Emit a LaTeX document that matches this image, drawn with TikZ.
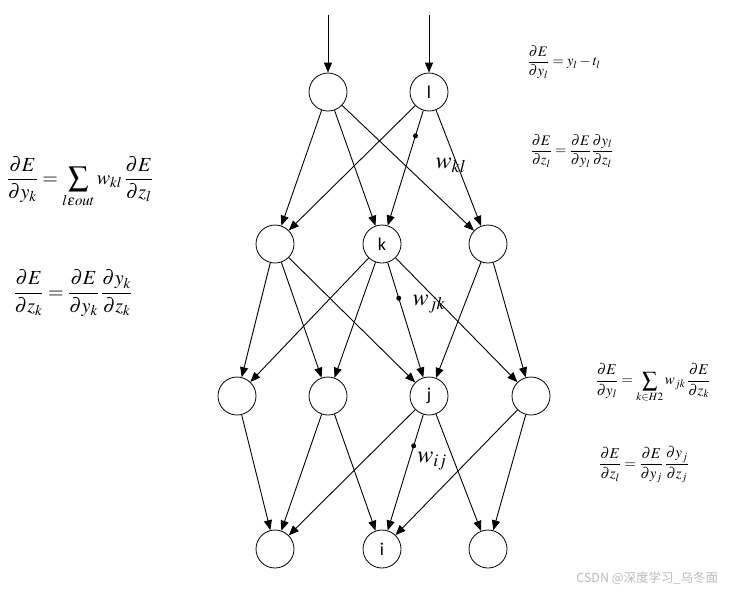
\documentclass[tikz,border=0pt]{standalone}
\usepackage{mathptmx}
\usepackage[no-math]{fontspec}
\newfontfamily\labelfont{Carlito}
\newfontfamily\cjkfont{Noto Sans CJK SC}
\usetikzlibrary{arrows.meta}

\begin{document}
\begin{tikzpicture}[
  x=1pt, y=-1pt,
  neuron/.style={circle, draw, line width=0.8pt, minimum size=38pt, inner sep=0pt,
    font=\labelfont\fontsize{18}{18}\selectfont},
  dotmark/.style={circle, fill, inner sep=0pt, minimum size=5pt},
  weight/.style={inner sep=0pt, font=\fontsize{24}{24}\selectfont},
  line width=0.9pt, >={Triangle[length=10pt,width=8pt]}
]
\useasboundingbox (0,0) rectangle (731,592);

% Output layer
\node[neuron] (o1) at (328,92) {};
\node[neuron] (l) at (429,92) {l};
\coordinate (feedo1) at (328,15);
\coordinate (feedl) at (429,15);

% Hidden layer 2
\node[neuron] (k1) at (275,244) {};
\node[neuron] (k) at (382,244) {k};
\node[neuron] (k3) at (488,244) {};

% Hidden layer 1
\node[neuron] (j1) at (237,396) {};
\node[neuron] (j2) at (328,396) {};
\node[neuron] (j) at (429,396) {j};
\node[neuron] (j4) at (531,396) {};

% Input layer
\node[neuron] (i1) at (275,549) {};
\node[neuron] (i) at (382,549) {i};
\node[neuron] (i3) at (488,549) {};

\draw[->] (feedo1) -- (o1);
\draw[->] (feedl) -- (l);

% Output -> hidden 2
\foreach \a in {o1,l}
  \foreach \b in {k1,k3}
    \draw[->] (\a) -- (\b);
\draw[->] (o1) -- (k);
\draw[->] (l) -- node[pos=0.22, dotmark] {} (k);

% Hidden 2 -> hidden 1
\foreach \b in {j1,j2,j}
  \draw[->] (k1) -- (\b);
\foreach \b in {j1,j2,j4}
  \draw[->] (k) -- (\b);
\draw[->] (k) -- node[pos=0.31, dotmark] {} (j);
\foreach \b in {j,j4}
  \draw[->] (k3) -- (\b);

% Hidden 1 -> input
\draw[->] (j1) -- (i1);
\foreach \b in {i1,i}
  \draw[->] (j2) -- (\b);
\foreach \b in {i1,i3}
  \draw[->] (j) -- (\b);
\draw[->] (j) -- node[pos=0.27, dotmark] {} (i);
\foreach \b in {i,i3}
  \draw[->] (j4) -- (\b);

% Weights
\node[weight] (wkl) at (451,165) {$w_{kl}$};
\node[weight] (wjk) at (429,304) {$w_{jk}$};
\node[weight] (wij) at (432,461) {$w_{ij}$};

% Formulas
\node (fyl) at (564,62) {\fontsize{14.5}{17}\selectfont
  $\displaystyle\frac{\partial E}{\partial y_l}=y_l-t_l$};
\node (fzl) at (572,151) {\fontsize{14.5}{17}\selectfont
  $\displaystyle\frac{\partial E}{\partial z_l}=\frac{\partial E}{\partial y_l}\frac{\partial y_l}{\partial z_l}$};
\node (fyk) at (80,182) {\fontsize{20}{24}\selectfont
  $\displaystyle\frac{\partial E}{\partial y_k}=\sum_{l\varepsilon out} w_{kl}\,\frac{\partial E}{\partial z_l}$};
\node (fzk) at (73,293) {\fontsize{20}{24}\selectfont
  $\displaystyle\frac{\partial E}{\partial z_k}=\frac{\partial E}{\partial y_k}\,\frac{\partial y_k}{\partial z_k}$};
\node (fyj) at (653,383) {\fontsize{15}{18}\selectfont
  $\displaystyle\frac{\partial E}{\partial y_l}=\sum_{k\in H2} w_{jk}\,\frac{\partial E}{\partial z_k}$};
\node (fzj) at (644,465) {\fontsize{15}{18}\selectfont
  $\displaystyle\frac{\partial E}{\partial z_l}=\frac{\partial E}{\partial y_j}\,\frac{\partial y_j}{\partial z_j}$};

% Watermark
\node[text=gray!55, anchor=east] (mark) at (722,578) {\cjkfont\fontsize{12.5}{12.5}\selectfont CSDN @深度学习\_乌冬面};
\end{tikzpicture}
\end{document}
